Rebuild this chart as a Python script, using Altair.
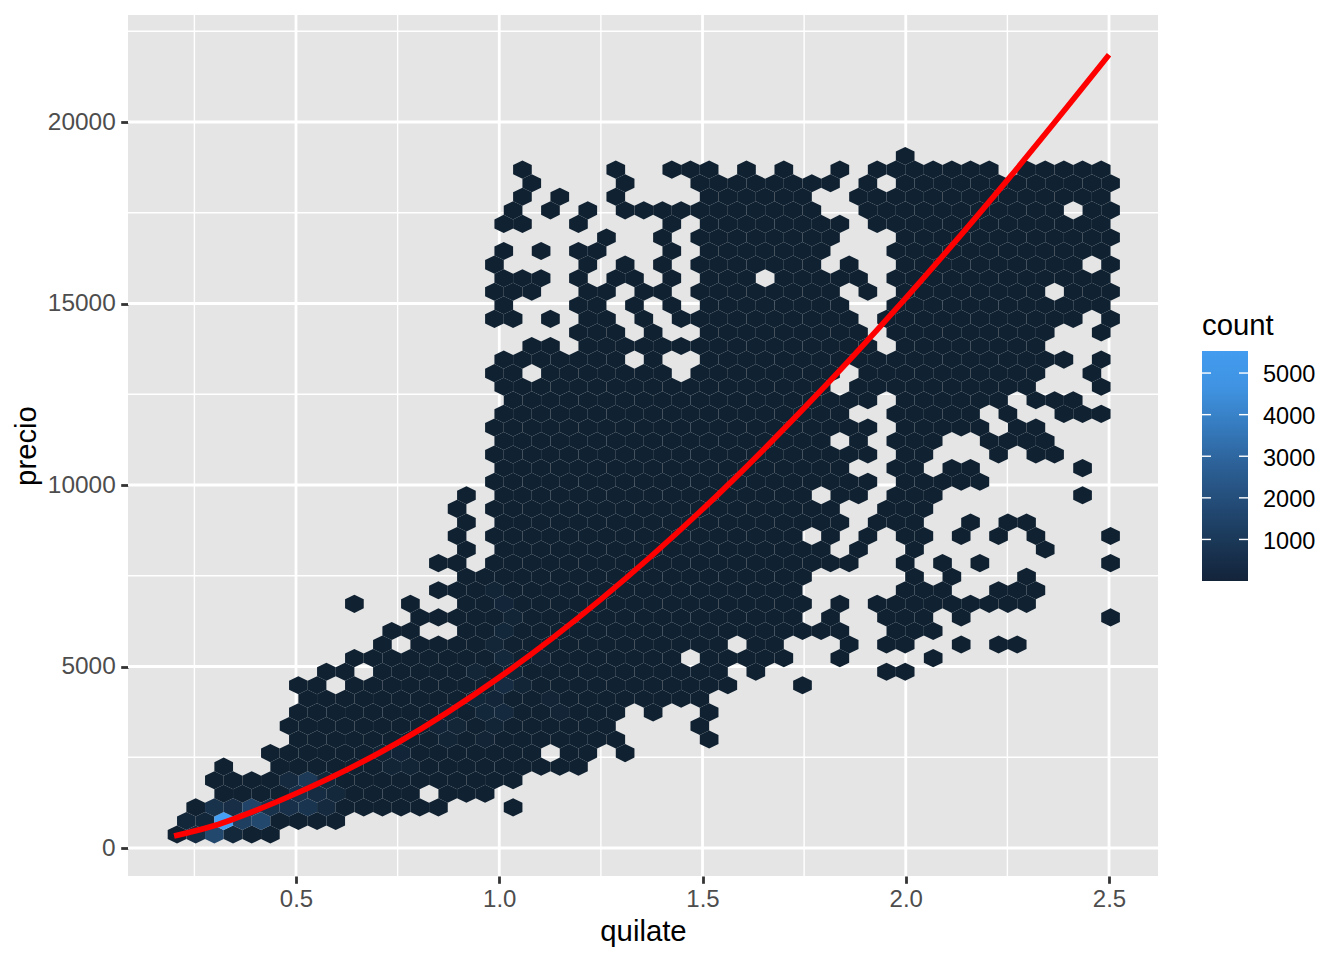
import altair as alt
import pandas as pd

# filled hexagon columns of each hexagon row, bottom row first
ROWS = [
 "0-5","0-8","1-14,18","2-12,14-16","2-18","2,5-21","5-19,21,22,24","6-23,28","6-23,28","6-23,25,28",
 "7-28","6,7,9-29,33","8,9,11-29,31,38,39","9-26,28-32,35,40","11,13-29,31,32,36,38,39,42,44,45",
 "11,12,15-35,38,39,40","13-33,35,38,39,40,42,50","9,12,15-33,35,37-45","14-33,39,40,41,44,45,46",
 "15-33,39,41,45","14,15,17-36,39,41,43,50","15,17-34,36,39,46","15,17-33,35,37,39,40,42,44,46,50",
 "15,17-35,37,38,39,42,44,45","15,17-35,38,39,40","15,17-33,35,36,38,39,40,48","17-37,39-43",
 "17-35,38,39,41,42,48","17-37,39,40,44,46,47","17-34,36,38,39,40,43-46","17-37,39-43,45,46",
 "17-35,38-42,44,47,48,49","18-37,39-44,46,47,48","17-34,36-45,49","17,18,20-26,28-35,37-46,49",
 "17-23,25,28-47,49","19,20,22-37,39-46","21,22,23,25,28-36,38-46,49","17,18,20,22,23,25,27-36,38-48,50",
 "17,21,22,24,26,28-35,38-49","17,18,19,22,23,25,26,28-35,37,39-46,48,49,50",
 "17,18,19,21,23,24,26,28,29,30,32-36,38-49","17,22,24,26,28-34,36,39-48,50",
 "17,19,21,22,26,28-34,38-49","23,26,28-35,39-50","17,18,21,26,28-35,37-49",
 "18,20,22,24-34,37-47,49,50","18,20,23,28-33,36-49","19,24,28-35,37,39-50",
 "18,23,26,27,28,30,32,35,37-43,45-49","39",
]
# hexbin grid
CARAT_START, CARAT_STEP = 0.2073, 0.04593
PRICE_START, PRICE_STEP = 372, 373.8
BASE_COUNT = 40
# (row, column, count) for the visibly lighter cells
COUNTS = [
 (1,2,5530),(0,2,1900),(1,3,1500),(1,4,1900),(2,4,1700),(2,2,900),(2,3,700),(2,5,900),(2,6,800),(2,7,1000),
 (0,1,600),(1,1,350),(1,0,350),(0,3,400),(3,6,800),(3,7,600),(4,7,1250),(4,6,500),(4,8,400),(3,8,400),(2,8,500),
 (11,17,600),(13,17,400),(15,17,350),(17,17,300),(9,17,450),(10,16,350),(9,16,350),(10,17,300),(12,16,280),
 (8,15,280),(9,14,260),(8,14,260),(6,12,260),(5,12,240),(6,11,240),(5,11,240),(7,14,240),(12,18,240),(14,17,280),
 (16,18,240),(18,17,240),(7,16,200),(8,17,240),(11,18,240),(13,19,200),(10,20,200),(9,20,200),
]
TICK_X = [0.5, 1.0, 1.5, 2.0, 2.5]
TICK_Y = [0, 5000, 10000, 15000, 20000]
MINOR_X = [0.25, 0.75, 1.25, 1.75, 2.25]
MINOR_Y = [2500, 7500, 12500, 17500, 22500]
LEGEND_VALUES = [1000, 2000, 3000, 4000, 5000]
LEGEND_STOPS = ["#13233A", "#1A3756", "#234B76", "#2C6096", "#357ABD", "#3F92E0", "#439CF0"]
CURVE_CARAT = [0.2, 0.3, 0.4, 0.5, 0.75, 1.0, 1.25, 1.5, 1.75, 2.0, 2.25, 2.5]
CURVE_PRICE = [330, 620, 1030, 1500, 2900, 4700, 6850, 9330, 12120, 15150, 18400, 21850]

FONT = "Liberation Sans"
X_DOM = [0.0867, 2.6205]
Y_DOM = [-771, 22948]
W, H = 1030, 861

overrides = {(r, c): n for r, c, n in COUNTS}
recs = []
for r, spec in enumerate(ROWS):
    for part in spec.split(","):
        a, _, b = part.partition("-")
        for c in range(int(a), int(b or a) + 1):
            recs.append({
                "carat": CARAT_START + CARAT_STEP * (c + 0.5 * (r % 2)),
                "price": PRICE_START + PRICE_STEP * r,
                "count": overrides.get((r, c), BASE_COUNT),
            })
hexes = pd.DataFrame(recs)
xs = alt.Scale(domain=X_DOM, nice=False, zero=False)
ys = alt.Scale(domain=Y_DOM, nice=False, zero=False)
HEX = "M0,-0.969L1,-0.4845L1,0.4845L0,0.969L-1,0.4845L-1,-0.4845Z"


def vrule(vals, w):
    return alt.Chart(pd.DataFrame({"v": vals})).mark_rule(color="white", strokeWidth=w).encode(
        x=alt.X("v:Q", scale=xs, axis=None))


def hrule(vals, w):
    return alt.Chart(pd.DataFrame({"v": vals})).mark_rule(color="white", strokeWidth=w).encode(
        y=alt.Y("v:Q", scale=ys, axis=None))


hex_layer = alt.Chart(hexes).mark_point(shape=HEX, filled=True, size=348.6, opacity=1, strokeWidth=0).encode(
    x=alt.X("carat:Q", scale=xs, title="quilate", axis=alt.Axis(
        values=TICK_X, format=".1f", grid=False, domain=False, tickColor="#333333", tickSize=7.3, tickWidth=2.8,
        labelColor="#4D4D4D", labelFontSize=24, labelFont=FONT, labelPadding=4, labelFlush=False,
        titleFont=FONT, titleFontSize=29.3, titleFontWeight="normal", titleColor="black", titlePadding=6)),
    y=alt.Y("price:Q", scale=ys, title="precio", axis=alt.Axis(
        values=TICK_Y, format="d", grid=False, domain=False, tickColor="#333333", tickSize=7.3, tickWidth=2.8,
        labelColor="#4D4D4D", labelFontSize=24.4, labelFont=FONT, labelPadding=5.5,
        titleFont=FONT, titleFontSize=29.3, titleFontWeight="normal", titleColor="black", titlePadding=6)),
    color=alt.Color("count:Q",
        scale=alt.Scale(domain=[1, 5530], range=["#102030", "#449FF5"], interpolate="lab", nice=False, zero=False),
        legend=alt.Legend(
            orient="none", legendX=1074, legendY=297, title="count", direction="vertical", type="gradient",
            values=LEGEND_VALUES, format="d", gradientLength=230, gradientThickness=46, gradientStrokeWidth=0,
            gradientOpacity=0,
            labelFont=FONT, labelFontSize=23.5, labelColor="black", labelOffset=15, labelOverlap=False,
            titleFont=FONT, titleFontSize=29.3, titleFontWeight="normal", titleColor="black", titlePadding=12)),
)

curve = alt.Chart(pd.DataFrame({"carat": CURVE_CARAT, "price": CURVE_PRICE})).mark_line(
    color="#FF0000", strokeWidth=5.6, interpolate="monotone").encode(
    x=alt.X("carat:Q", scale=xs, axis=None), y=alt.Y("price:Q", scale=ys, axis=None))

legend_scale = alt.Scale(domain=[1, 5530], range=[566, 336], nice=False, zero=False)
n_stops = len(LEGEND_STOPS) - 1
bar_fill = alt.LinearGradient(
    gradient="linear", x1=0, x2=0, y1=1, y2=0,
    stops=[alt.GradientStop(color=col, offset=i / n_stops) for i, col in enumerate(LEGEND_STOPS)])
bar = alt.Chart(pd.DataFrame({"a": [1], "b": [5530]})).mark_rect(color=bar_fill).encode(
    x=alt.value(1074), x2=alt.value(1120),
    y=alt.Y("a:Q", scale=legend_scale, axis=None), y2="b:Q")
ldf = pd.DataFrame({"v": LEGEND_VALUES})
ltick1 = alt.Chart(ldf).mark_rule(color="white", strokeWidth=1.4).encode(
    x=alt.value(1074), x2=alt.value(1083), y=alt.Y("v:Q", scale=legend_scale, axis=None))
ltick2 = alt.Chart(ldf).mark_rule(color="white", strokeWidth=1.4).encode(
    x=alt.value(1111), x2=alt.value(1120), y=alt.Y("v:Q", scale=legend_scale, axis=None))

chart = alt.layer(
    vrule(MINOR_X, 1.4), hrule(MINOR_Y, 1.4), vrule(TICK_X, 2.8), hrule(TICK_Y, 2.8),
    hex_layer, curve, bar, ltick1, ltick2,
).resolve_scale(x="independent", y="independent").properties(
    width=W, height=H,
    padding={"left": 120, "top": 7, "right": 170, "bottom": 76},
    autosize=alt.AutoSizeParams(type="none"),
    background="white",
).configure_view(fill="#E5E5E5", strokeWidth=0)

chart.save("out.html", embed_options={"renderer": "svg", "actions": False})
